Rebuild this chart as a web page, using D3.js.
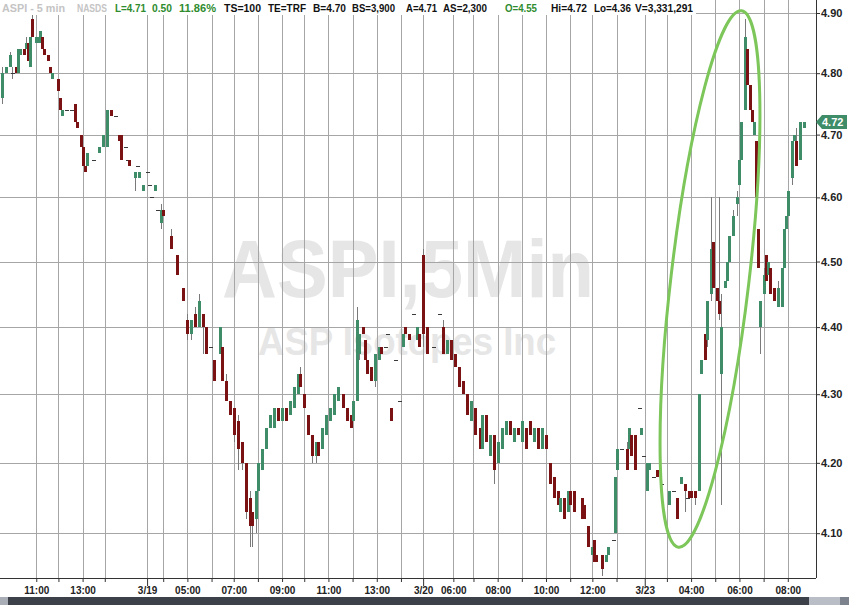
<!DOCTYPE html>
<html><head><meta charset="utf-8">
<script src="https://cdn.jsdelivr.net/npm/d3@7"></script>
<style>
body{margin:0;background:#fff;}
svg{display:block;font-family:"Liberation Sans",Arial,sans-serif;}
</style>
</head><body>
<svg id="chart" width="849" height="605"></svg>
<script>
// ---- data ----
const priceLevels = [4.10, 4.20, 4.30, 4.40, 4.50, 4.60, 4.70, 4.80, 4.90];
// 5-minute slot index of each hourly tick and its label ('' = unlabeled)
const tickSlots  = [18, 29, 41, 52, 73, 81, 93, 105, 116, 128, 140, 151, 163, 175, 187, 199, 210, 225, 235, 247, 259, 271, 283, 294, 306, 320, 331, 343, 355, 367, 379, 391];
const tickLabels = ["11:00","","13:00","","3/19","","05:00","","07:00","","09:00","","11:00","","13:00","","3/20","06:00","","08:00","","10:00","","12:00","","3/23","","04:00","","06:00","","08:00"];
const lastPrice = 4.72;
const headerTokens = ["ASPI - 5 min","NASDS","L=4.71","0.50","11.86%","TS=100","TE=TRF","B=4.70","BS=3,900","A=4.71","AS=2,300","O=4.55","Hi=4.72","Lo=4.36","V=3,331,291"];
const watermarkMain = "ASPI,5Min";
const watermarkSub = "ASP Isotopes Inc";

// bars: [slot, open, high, low, close]
const bars0318 = [
[1,4.76,4.81,4.75,4.80],[3,4.80,4.81,4.80,4.81],[5,4.81,4.835,4.81,4.83],[6,4.80,4.81,4.79,4.80],
[8,4.81,4.81,4.80,4.80],[9,4.80,4.84,4.80,4.84],[10,4.83,4.84,4.83,4.84],[12,4.84,4.84,4.83,4.83],
[13,4.84,4.86,4.84,4.85],[14,4.85,4.85,4.82,4.82],[15,4.81,4.86,4.81,4.86],[16,4.89,4.90,4.86,4.86],
[18,4.85,4.86,4.85,4.86],[19,4.85,4.86,4.85,4.86],[20,4.85,4.87,4.85,4.87],[21,4.86,4.86,4.84,4.84],
[22,4.84,4.84,4.83,4.83],[24,4.83,4.83,4.82,4.82],[25,4.81,4.81,4.80,4.80],[26,4.79,4.80,4.79,4.80],
[29,4.79,4.79,4.77,4.77],[30,4.76,4.76,4.74,4.74],[31,4.73,4.74,4.73,4.74],[33,4.74,4.74,4.74,4.74],
[35,4.74,4.74,4.74,4.74],[37,4.75,4.75,4.72,4.72],[38,4.72,4.72,4.71,4.71],[40,4.70,4.70,4.68,4.68],
[41,4.68,4.68,4.65,4.65],[42,4.65,4.65,4.64,4.64],[43,4.65,4.67,4.65,4.67],[46,4.66,4.66,4.66,4.66],
[49,4.67,4.68,4.67,4.68],[51,4.68,4.70,4.68,4.70],[53,4.68,4.74,4.68,4.74],[55,4.74,4.74,4.73,4.73],
[57,4.73,4.73,4.73,4.73],[59,4.70,4.70,4.69,4.69],[60,4.70,4.70,4.66,4.66],[62,4.68,4.68,4.68,4.68],
[63,4.66,4.66,4.66,4.66],[64,4.66,4.66,4.65,4.65],[67,4.63,4.64,4.61,4.64],[68,4.65,4.65,4.65,4.65],
[69,4.63,4.64,4.63,4.64],[71,4.61,4.62,4.61,4.62]
];
const bars0319 = [
[73,4.64,4.64,4.64,4.64],[74,4.62,4.62,4.62,4.62],[75,4.60,4.60,4.60,4.60],[77,4.61,4.62,4.61,4.62],
[78,4.58,4.58,4.58,4.58],[80,4.56,4.59,4.55,4.58],[81,4.58,4.58,4.57,4.57],[85,4.54,4.55,4.52,4.52],
[88,4.51,4.51,4.48,4.48],[91,4.46,4.46,4.44,4.44],[93,4.41,4.42,4.38,4.39],[95,4.39,4.41,4.38,4.41],
[97,4.42,4.43,4.40,4.40],[99,4.40,4.45,4.40,4.44],[101,4.42,4.42,4.36,4.40],[102,4.40,4.40,4.36,4.36],
[104,4.37,4.37,4.37,4.37],[106,4.35,4.35,4.32,4.32],[109,4.36,4.40,4.36,4.40],[110,4.37,4.37,4.32,4.32],
[112,4.32,4.33,4.29,4.29],[114,4.29,4.29,4.27,4.27],[116,4.28,4.28,4.23,4.24],[118,4.26,4.27,4.19,4.22],
[120,4.23,4.23,4.19,4.20],[122,4.20,4.20,4.12,4.13],[124,4.15,4.16,4.08,4.11],[125,4.13,4.13,4.08,4.11],
[127,4.12,4.16,4.10,4.16],[128,4.16,4.20,4.16,4.20],[130,4.19,4.22,4.19,4.22],[132,4.22,4.25,4.22,4.25],
[134,4.25,4.27,4.25,4.27],[136,4.25,4.28,4.25,4.28],[138,4.28,4.28,4.26,4.26],[140,4.26,4.28,4.26,4.28],
[142,4.28,4.28,4.26,4.26],[144,4.27,4.29,4.27,4.29],[146,4.28,4.31,4.28,4.31],[148,4.30,4.33,4.30,4.33],
[149,4.33,4.34,4.31,4.31],[151,4.30,4.30,4.28,4.28],[153,4.27,4.27,4.24,4.24],[155,4.24,4.24,4.20,4.21],
[157,4.21,4.23,4.20,4.23],[158,4.23,4.23,4.21,4.21],[160,4.22,4.25,4.22,4.25],[162,4.24,4.27,4.24,4.27],
[164,4.26,4.28,4.26,4.28],[166,4.27,4.30,4.27,4.30],[168,4.29,4.31,4.29,4.31],[170,4.30,4.30,4.28,4.28],
[172,4.28,4.28,4.26,4.26],[174,4.27,4.27,4.25,4.25],[175,4.26,4.29,4.26,4.29],[177,4.29,4.43,4.29,4.41],
[178,4.36,4.39,4.35,4.39],[180,4.40,4.40,4.39,4.39],[181,4.38,4.38,4.35,4.35],[182,4.35,4.35,4.33,4.33],
[184,4.34,4.34,4.32,4.32],[186,4.32,4.36,4.31,4.36],[188,4.35,4.37,4.35,4.37],[189,4.37,4.37,4.36,4.36],
[191,4.37,4.37,4.37,4.37],[192,4.39,4.39,4.39,4.39],[194,4.28,4.28,4.26,4.26],[196,4.35,4.35,4.35,4.35],
[198,4.29,4.29,4.29,4.29],[200,4.37,4.39,4.37,4.39],[201,4.40,4.40,4.39,4.39],[203,4.39,4.39,4.38,4.38],
[205,4.42,4.42,4.42,4.42],[207,4.38,4.40,4.38,4.40],[208,4.39,4.39,4.37,4.37]
];
const bars0320 = [
[210,4.51,4.52,4.37,4.39],[212,4.40,4.40,4.36,4.36],[215,4.37,4.37,4.37,4.37],[218,4.42,4.42,4.42,4.42],
[220,4.40,4.41,4.36,4.36],[222,4.36,4.38,4.36,4.38],[224,4.38,4.38,4.35,4.35],[226,4.36,4.36,4.34,4.34],
[228,4.34,4.34,4.31,4.31],[230,4.32,4.32,4.30,4.30],[232,4.30,4.30,4.27,4.27],[234,4.26,4.29,4.26,4.29],
[236,4.28,4.28,4.24,4.24],[238,4.25,4.25,4.22,4.22],[239,4.22,4.27,4.22,4.27],[241,4.27,4.27,4.23,4.23],
[243,4.21,4.24,4.21,4.24],[245,4.24,4.24,4.17,4.19],[247,4.20,4.23,4.20,4.23],[249,4.22,4.25,4.22,4.25],
[251,4.24,4.26,4.24,4.26],[253,4.26,4.26,4.24,4.24],[255,4.23,4.25,4.23,4.25],[257,4.25,4.25,4.24,4.24],
[259,4.23,4.26,4.23,4.26],[261,4.25,4.25,4.22,4.22],[263,4.26,4.26,4.24,4.24],[265,4.23,4.25,4.23,4.25],
[267,4.25,4.25,4.22,4.22],[269,4.22,4.25,4.22,4.25],[271,4.24,4.24,4.22,4.22],[273,4.20,4.20,4.17,4.17],
[275,4.18,4.18,4.15,4.15],[277,4.16,4.16,4.14,4.14],[278,4.13,4.15,4.13,4.15],[280,4.15,4.15,4.12,4.12],
[282,4.13,4.16,4.13,4.16],[283,4.16,4.16,4.14,4.14],[285,4.16,4.16,4.13,4.13],[289,4.15,4.15,4.12,4.12],
[290,4.14,4.14,4.12,4.12],[292,4.11,4.11,4.08,4.08],[294,4.07,4.08,4.07,4.08],[295,4.09,4.09,4.06,4.06],
[296,4.07,4.07,4.06,4.06],[299,4.07,4.07,4.04,4.05],[301,4.06,4.07,4.06,4.07],[302,4.07,4.08,4.07,4.08],
[304,4.09,4.09,4.09,4.09],[305,4.10,4.18,4.10,4.18],[306,4.19,4.22,4.19,4.22],[308,4.22,4.22,4.22,4.22],
[311,4.22,4.23,4.19,4.19],[312,4.22,4.25,4.22,4.25],[313,4.24,4.24,4.21,4.21],[315,4.24,4.24,4.19,4.19],
[317,4.28,4.28,4.28,4.28],[318,4.24,4.25,4.24,4.25],[319,4.21,4.21,4.21,4.21]
];
const bars0323 = [
[321,4.16,4.20,4.16,4.20],[322,4.19,4.20,4.19,4.20],[324,4.18,4.18,4.18,4.18],[326,4.19,4.19,4.18,4.18],
[328,4.17,4.17,4.17,4.17],[332,4.14,4.16,4.14,4.16],[334,4.16,4.16,4.16,4.16],[336,4.15,4.15,4.12,4.12],
[338,4.17,4.18,4.17,4.18],[340,4.17,4.17,4.13,4.16],[341,4.15,4.15,4.15,4.15],[342,4.16,4.16,4.15,4.15],
[343,4.16,4.16,4.15,4.15],[345,4.16,4.16,4.14,4.15],[347,4.16,4.30,4.16,4.30],[348,4.33,4.35,4.33,4.35],
[350,4.39,4.39,4.35,4.35],[351,4.38,4.44,4.37,4.44],[353,4.45,4.60,4.44,4.52],[354,4.53,4.53,4.46,4.46],
[356,4.46,4.46,4.44,4.44],[357,4.44,4.60,4.41,4.42],[358,4.33,4.45,4.14,4.40],[360,4.46,4.47,4.46,4.47],
[361,4.47,4.50,4.47,4.50],[362,4.50,4.54,4.50,4.54],[364,4.54,4.58,4.54,4.57],[366,4.59,4.61,4.57,4.60],
[367,4.62,4.66,4.62,4.66],[368,4.66,4.72,4.66,4.72],[370,4.74,4.89,4.74,4.86],[371,4.84,4.84,4.78,4.78],
[372,4.78,4.78,4.74,4.74],[373,4.74,4.74,4.72,4.72],[374,4.70,4.72,4.70,4.72],[375,4.69,4.69,4.60,4.60],
[376,4.55,4.55,4.49,4.49],[377,4.40,4.44,4.36,4.44],[379,4.45,4.49,4.45,4.48],[380,4.51,4.51,4.47,4.47],
[381,4.48,4.50,4.48,4.50],[382,4.49,4.49,4.45,4.45],[384,4.46,4.46,4.44,4.44],[386,4.43,4.47,4.43,4.46],
[388,4.43,4.49,4.43,4.49],[389,4.49,4.55,4.49,4.55],[390,4.55,4.57,4.55,4.57],[391,4.57,4.61,4.57,4.61],
[393,4.63,4.69,4.62,4.69],[394,4.69,4.70,4.69,4.70],[395,4.69,4.71,4.65,4.65],[397,4.66,4.72,4.66,4.72],
[399,4.71,4.72,4.71,4.72]
];

// ---- drawing ----
const W = 849, H = 605, plotR = 816, plotB = 578;
const svg = d3.select("#chart");
const x = d3.scaleLinear().domain([0, 405]).range([0, plotR]);
const y = d3.scaleLog().domain([4.0375, 4.9219]).range([plotB, 0]);

svg.append("rect").attr("width", W).attr("height", H).attr("fill", "#fff");

// watermark
svg.append("text").text(watermarkMain)
  .attr("x", 222).attr("y", 297).attr("textLength", 372).attr("lengthAdjust", "spacingAndGlyphs")
  .attr("font-size", 82).attr("font-weight", "bold").attr("fill", "#e6e6e6");
svg.append("text").text(watermarkSub)
  .attr("x", 258).attr("y", 355).attr("textLength", 298).attr("lengthAdjust", "spacingAndGlyphs")
  .attr("font-size", 39).attr("font-weight", "bold").attr("fill", "#e6e6e6");

// grid
const grid = svg.append("g").attr("stroke", "#a6a6a6").attr("stroke-width", 1).attr("shape-rendering", "crispEdges");
grid.selectAll("line.h").data(priceLevels).join("line").attr("class", "h")
  .attr("x1", 0).attr("x2", plotR).attr("y1", d => Math.round(y(d)) + 0.5).attr("y2", d => Math.round(y(d)) + 0.5);
grid.selectAll("line.v").data(tickSlots).join("line").attr("class", "v")
  .attr("y1", 0).attr("y2", plotB).attr("x1", d => Math.round(x(d)) + 0.5).attr("x2", d => Math.round(x(d)) + 0.5);

// candles
const allBars = [].concat(bars0318, bars0319, bars0320, bars0323);
const up = "#3f8c68", down = "#7a1214", flat = "#3a3a3a";
const cg = svg.append("g").attr("shape-rendering", "crispEdges");
cg.selectAll("line.wick").data(allBars).join("line").attr("class", "wick")
  .attr("x1", d => Math.round(x(d[0])) + 0.5).attr("x2", d => Math.round(x(d[0])) + 0.5)
  .attr("y1", d => y(d[2])).attr("y2", d => y(d[3]))
  .attr("stroke", "#7a7a7a").attr("stroke-width", 1);
cg.selectAll("rect.body").data(allBars).join("rect").attr("class", "body")
  .attr("x", d => Math.round(x(d[0])) - 1)
  .attr("width", d => d[1] === d[4] ? 4 : 3)
  .attr("y", d => d[1] === d[4] ? Math.round(y(d[1])) : y(Math.max(d[1], d[4])))
  .attr("height", d => d[1] === d[4] ? 1 : Math.max(1, y(Math.min(d[1], d[4])) - y(Math.max(d[1], d[4]))))
  .attr("fill", d => d[4] > d[1] ? up : (d[4] < d[1] ? down : flat));

// highlight ellipse
svg.append("ellipse").attr("cx", 0).attr("cy", 0).attr("rx", 39).attr("ry", 270)
  .attr("transform", "translate(710,279) rotate(6.7)")
  .attr("fill", "none").attr("stroke", "#7cc65a").attr("stroke-width", 3);

// right axis
const yAxis = svg.append("g").attr("transform", `translate(${plotR},0)`)
  .call(d3.axisRight(y).tickValues(priceLevels).tickFormat(d3.format(".2f")).tickSize(4).tickSizeOuter(0).tickPadding(1));
yAxis.select(".domain").attr("stroke", "#333").attr("d", `M0.5,0V${plotB}`);
yAxis.selectAll(".tick line").attr("stroke", "#333");
yAxis.selectAll(".tick text").attr("font-size", 11).attr("font-weight", "bold").attr("fill", "#222")
  .attr("font-family", "Liberation Sans, Arial, sans-serif");

// bottom axis
const xAxis = svg.append("g").attr("transform", `translate(0,${plotB})`)
  .call(d3.axisBottom(x).tickValues(tickSlots).tickFormat((d, i) => tickLabels[i]).tickSize(4).tickSizeOuter(0).tickPadding(5));
xAxis.select(".domain").attr("stroke", "#333").attr("d", `M0,0.5H${plotR}`);
xAxis.selectAll(".tick line").attr("stroke", "#333").attr("y2", (d, i) => tickLabels[i].includes("/") ? 8 : 4);
xAxis.selectAll(".tick text").attr("font-size", 10).attr("font-weight", "bold").attr("fill", "#222")
  .attr("font-family", "Liberation Sans, Arial, sans-serif");

// last price badge
const ly = Math.round(y(lastPrice));
svg.append("path").attr("d", `M${plotR},${ly} L${plotR + 6},${ly - 7} H${W - 2} V${ly + 7} H${plotR + 6} Z`).attr("fill", "#3f8c68");
svg.append("text").text(d3.format(".2f")(lastPrice)).attr("x", plotR + 6).attr("y", ly + 4)
  .attr("font-size", 11).attr("font-weight", "bold").attr("fill", "#fff");

// header
const headerX = [2, 77, 115, 152, 179, 224, 268, 313, 352, 406, 443, 505, 551, 594, 635];
const headerW = [63, 30, 31, 20, 37, 37, 38, 33, 43, 31, 44, 32, 36, 37, 58];
const headerColor = ["#c4c4c4", "#c4c4c4", "#2e8b2e", "#2e8b2e", "#2e8b2e", "#111", "#111", "#111", "#111", "#111", "#111", "#2e8b2e", "#111", "#111", "#111"];
svg.append("rect").attr("x", 0).attr("y", 0).attr("width", 696).attr("height", 15).attr("fill", "#fff");
svg.selectAll("text.hdr").data(headerTokens).join("text").attr("class", "hdr")
  .text(d => d).attr("x", (d, i) => headerX[i]).attr("y", 12)
  .attr("textLength", (d, i) => headerW[i]).attr("lengthAdjust", "spacingAndGlyphs")
  .attr("font-size", 10.5).attr("font-weight", "bold").attr("fill", (d, i) => headerColor[i]);

// scrollbar
svg.append("rect").attr("x", 0).attr("y", 597).attr("width", W).attr("height", 8).attr("fill", "#3b4049");
svg.append("rect").attr("x", 0).attr("y", 597).attr("width", 8).attr("height", 8).attr("fill", "#a9aeb6");
svg.append("rect").attr("x", 809).attr("y", 597).attr("width", 31).attr("height", 8).attr("fill", "#b9bec6");
svg.append("rect").attr("x", 840).attr("y", 597).attr("width", 9).attr("height", 8).attr("fill", "#7d838c");
</script>
</body></html>
